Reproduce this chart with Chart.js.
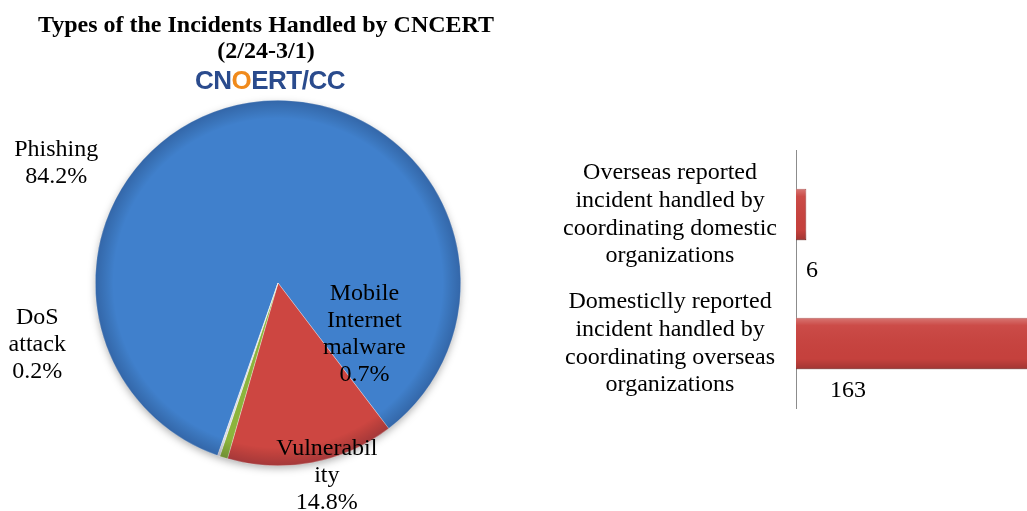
<!DOCTYPE html>
<html>
<head>
<meta charset="utf-8">
<script src="https://cdn.jsdelivr.net/npm/chart.js@4"></script>
<style>
  html, body { margin: 0; padding: 0; background: #fff; overflow: hidden; }
  #wrap { position: relative; width: 1027px; height: 511px; overflow: hidden; background: #fff; }
  #pieBox { position: absolute; left: 0; top: 0; width: 540px; height: 511px; }
  #barBox { position: absolute; left: 540px; top: 140px; width: 600px; height: 280px; }
  #title {
    position: absolute; left: 0; top: 11px; width: 532px; text-align: center;
    font: bold 24px "Liberation Serif", "Times New Roman", serif; line-height: 26px; color: #000;
  }
  #logo {
    position: absolute; left: 0; top: 65px; width: 540px; text-align: center;
    font: bold 26px "Liberation Sans", Arial, sans-serif; line-height: 30px; color: #2a4b8d;
    letter-spacing: -0.5px;
  }
  #logo span { color: #f08a1c; }
</style>
</head>
<body>
<div id="wrap">
  <div id="pieBox"><canvas id="pieChart"></canvas></div>
  <div id="barBox"><canvas id="barChart"></canvas></div>
  <div id="title">Types of the Incidents Handled by CNCERT<br>(2/24-3/1)</div>
  <div id="logo">CN<span>O</span>ERT/CC</div>
</div>
<script>
// pie data
const pieLabels = ['Phishing', 'Vulnerability', 'Mobile Internet malware', 'DoS attack'];
const pieValues = [84.2, 14.8, 0.7, 0.2];
const pieColors = ['#4080cc', '#cd4641', '#8cb43c', '#d9dbe3'];

// bar data
const barLabels = [
  ['Overseas reported', 'incident handled by', 'coordinating domestic', 'organizations'],
  ['Domesticlly reported', 'incident handled by', 'coordinating overseas', 'organizations']
];
const barValues = [6, 163];

const serif = '"Liberation Serif", "Times New Roman", serif';

// pie label text, broken the way the original wraps it
const pieLabelLines = [
  ['Phishing', '84.2%'],
  ['Vulnerabil', 'ity', '14.8%'],
  ['Mobile', 'Internet', 'malware', '0.7%'],
  ['DoS', 'attack', '0.2%']
];
// where each label sits: angle (deg, clockwise from top) and distance as share of radius
const pieLabelPlace = [
  { a: 298.4, f: 1.38 },
  { a: 165.8, f: 1.09 },
  { a: 120.7, f: 0.55 },
  { a: 255.6, f: 1.36 }
];

const pieShade = {
  id: 'pieShade',
  beforeDatasetsDraw(chart) {
    const arc = chart.getDatasetMeta(0).data[0];
    if (!arc) return;
    const ctx = chart.ctx;
    ctx.save();
    ctx.shadowColor = 'rgba(0,0,0,0.35)';
    ctx.shadowBlur = 8;
    ctx.shadowOffsetY = 3;
    ctx.beginPath();
    ctx.arc(arc.x, arc.y, arc.outerRadius - 1, 0, Math.PI * 2);
    ctx.fillStyle = '#fff';
    ctx.fill();
    ctx.restore();
  },
  afterDatasetsDraw(chart) {
    const arc = chart.getDatasetMeta(0).data[0];
    if (!arc) return;
    const { x, y } = arc;
    const r = arc.outerRadius;
    const ctx = chart.ctx;
    ctx.save();
    ctx.beginPath();
    ctx.arc(x, y, r, 0, Math.PI * 2);
    ctx.clip();
    const g = ctx.createRadialGradient(x, y, r * 0.9, x, y, r);
    g.addColorStop(0, 'rgba(0,0,0,0)');
    g.addColorStop(1, 'rgba(0,0,30,0.2)');
    ctx.fillStyle = g;
    ctx.fillRect(x - r, y - r, 2 * r, 2 * r);
    ctx.restore();
  }
};

const pieText = {
  id: 'pieText',
  afterDatasetsDraw(chart) {
    const arc = chart.getDatasetMeta(0).data[0];
    if (!arc) return;
    const ctx = chart.ctx;
    const r = arc.outerRadius;
    ctx.save();
    ctx.font = '24px ' + serif;
    ctx.fillStyle = '#000';
    ctx.textAlign = 'center';
    ctx.textBaseline = 'middle';
    const lh = 27;
    pieLabelLines.forEach((lines, i) => {
      const p = pieLabelPlace[i];
      const rad = p.a * Math.PI / 180;
      const cx = arc.x + p.f * r * Math.sin(rad);
      const cy = arc.y - p.f * r * Math.cos(rad);
      const top = cy - (lines.length - 1) * lh / 2;
      lines.forEach((t, j) => ctx.fillText(t, cx, top + j * lh));
    });
    ctx.restore();
  }
};

new Chart(document.getElementById('pieChart'), {
  type: 'pie',
  data: {
    labels: pieLabels,
    datasets: [{
      data: pieValues,
      backgroundColor: pieColors,
      borderColor: 'rgba(255,255,255,0.6)',
      borderWidth: 0.5
    }]
  },
  options: {
    responsive: true,
    maintainAspectRatio: false,
    animation: false,
    rotation: 199.3,
    layout: { padding: { left: 95, right: 79, top: 100, bottom: 45 } },
    plugins: { legend: { display: false }, tooltip: { enabled: false } }
  },
  plugins: [pieShade, pieText]
});

// value labels under the bars (offsets from bar base / bar centre)
const barValueOffsets = [{ dx: 16, dy: 56 }, { dx: 52, dy: 47 }];

const barText = {
  id: 'barText',
  afterDatasetsDraw(chart) {
    const ctx = chart.ctx;
    const meta = chart.getDatasetMeta(0);
    ctx.save();
    // bevel-ish shading on each bar
    meta.data.forEach((bar) => {
      const top = bar.y - bar.height / 2;
      const g = ctx.createLinearGradient(0, top, 0, top + bar.height);
      g.addColorStop(0, 'rgba(255,255,255,0.28)');
      g.addColorStop(0.15, 'rgba(255,255,255,0.05)');
      g.addColorStop(0.8, 'rgba(0,0,0,0.02)');
      g.addColorStop(1, 'rgba(0,0,0,0.2)');
      ctx.fillStyle = g;
      ctx.fillRect(bar.base, top, bar.x - bar.base, bar.height);
    });
    ctx.font = '24px ' + serif;
    ctx.fillStyle = '#000';
    ctx.textAlign = 'center';
    ctx.textBaseline = 'middle';
    meta.data.forEach((bar, i) => {
      const o = barValueOffsets[i];
      ctx.fillText(String(barValues[i]), bar.base + o.dx, bar.y + o.dy);
    });
    ctx.restore();
  }
};

new Chart(document.getElementById('barChart'), {
  type: 'bar',
  data: {
    labels: barLabels,
    datasets: [{
      data: barValues,
      backgroundColor: '#c9423e',
      borderColor: '#9c2f2c',
      borderWidth: 1
    }]
  },
  options: {
    indexAxis: 'y',
    responsive: true,
    maintainAspectRatio: false,
    animation: false,
    barPercentage: 0.8,
    categoryPercentage: 0.5,
    layout: { padding: { top: 10, bottom: 12, left: 0, right: 0 } },
    plugins: { legend: { display: false }, tooltip: { enabled: false } },
    scales: {
      x: { display: false, min: 0, max: 200 },
      y: {
        grid: { display: false, drawTicks: false },
        border: { display: true, color: '#8c8c8c', width: 1 },
        ticks: {
          crossAlign: 'center',
          padding: 19,
          color: '#000',
          font: { family: serif, size: 24, lineHeight: 1.15 }
        },
        afterFit(scale) {
          scale.width = 256;
          scale.paddingTop = 0;
          scale.paddingBottom = 0;
        }
      }
    }
  },
  plugins: [barText]
});
</script>
</body>
</html>
